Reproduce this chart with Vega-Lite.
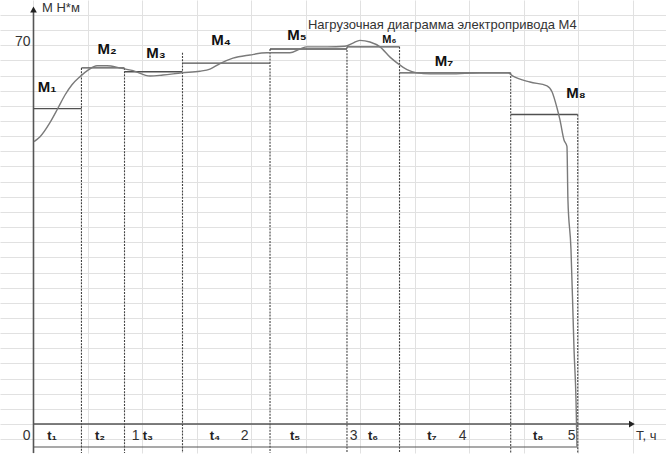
{
  "$schema": "https://vega.github.io/schema/vega-lite/v6.json",
  "width": 666,
  "height": 454,
  "autosize": {"type": "fit", "contains": "padding"},
  "padding": 0,
  "background": "white",
  "config": {"view": {"stroke": null}, "font": "Liberation Sans"},
  "datasets": {
    "curve": [
      {"x": 0.005, "y": 52.2}, {"x": 0.06, "y": 53.1}, {"x": 0.151, "y": 55.7}, {"x": 0.225, "y": 58.4},
      {"x": 0.289, "y": 60.8}, {"x": 0.353, "y": 62.7}, {"x": 0.427, "y": 64.2}, {"x": 0.5, "y": 65.4},
      {"x": 0.583, "y": 66.2}, {"x": 0.674, "y": 66.2}, {"x": 0.794, "y": 65.8}, {"x": 0.913, "y": 65.3},
      {"x": 1.069, "y": 64.3}, {"x": 1.188, "y": 64.5}, {"x": 1.362, "y": 64.9}, {"x": 1.527, "y": 65.2},
      {"x": 1.619, "y": 65.6}, {"x": 1.711, "y": 66.6}, {"x": 1.83, "y": 67.6}, {"x": 1.986, "y": 68.2},
      {"x": 2.142, "y": 68.6}, {"x": 2.353, "y": 68.6}, {"x": 2.445, "y": 69.3}, {"x": 2.509, "y": 69.7},
      {"x": 2.693, "y": 69.7}, {"x": 2.858, "y": 69.8}, {"x": 2.931, "y": 70.4}, {"x": 2.995, "y": 70.9},
      {"x": 3.087, "y": 70.6}, {"x": 3.179, "y": 69.7}, {"x": 3.271, "y": 67.8}, {"x": 3.344, "y": 66.6},
      {"x": 3.427, "y": 65.5}, {"x": 3.518, "y": 64.9}, {"x": 3.638, "y": 64.7}, {"x": 3.821, "y": 64.7},
      {"x": 4.096, "y": 64.9}, {"x": 4.353, "y": 64.9}, {"x": 4.399, "y": 64.3}, {"x": 4.555, "y": 63.2},
      {"x": 4.711, "y": 62.5}, {"x": 4.757, "y": 61.4}, {"x": 4.803, "y": 58.4}, {"x": 4.83, "y": 56.2},
      {"x": 4.867, "y": 52.5}, {"x": 4.894, "y": 51.3}, {"x": 4.903, "y": 41.5}, {"x": 4.931, "y": 32.3},
      {"x": 4.95, "y": 19.9}, {"x": 4.959, "y": 13.8}, {"x": 4.977, "y": 4.6}, {"x": 4.986, "y": -4.2}
    ],
    "steps": [
      {"seg": "M1", "x": 0, "x2": 0.44, "y": 58.3},
      {"seg": "M2", "x": 0.44, "x2": 0.835, "y": 65.8},
      {"seg": "M3", "x": 0.835, "x2": 1.367, "y": 65.1},
      {"seg": "M4", "x": 1.367, "x2": 2.17, "y": 66.7},
      {"seg": "M5", "x": 2.17, "x2": 2.876, "y": 69.3},
      {"seg": "M6", "x": 2.876, "x2": 3.358, "y": 69.7},
      {"seg": "M7", "x": 3.358, "x2": 4.378, "y": 64.9},
      {"seg": "M8", "x": 4.378, "x2": 4.993, "y": 57.2}
    ],
    "bounds": [
      {"x": 0.44, "y": 65.8}, {"x": 0.835, "y": 65.8}, {"x": 1.367, "y": 68.6}, {"x": 2.17, "y": 69.3},
      {"x": 2.876, "y": 69.7}, {"x": 3.358, "y": 69.7}, {"x": 4.378, "y": 64.9}, {"x": 4.993, "y": 57.2}
    ],
    "axisV": [{"x": 0, "y": -5.35, "y2": 76.7}],
    "axisH": [{"x": 0, "x2": 5.5, "y": 0}],
    "dim": [{"x": 0, "x2": 4.993, "y": -4.24}],
    "arrows": [
      {"x": 0, "y": 76.6, "shape": "triangle-up"},
      {"x": 5.49, "y": 0, "shape": "triangle-right"}
    ],
    "mlabels": [
      {"x": 0.124, "y": 62.3, "text": "M₁"}, {"x": 0.674, "y": 69.3, "text": "M₂"},
      {"x": 1.124, "y": 68.6, "text": "M₃"}, {"x": 1.72, "y": 71.0, "text": "M₄"},
      {"x": 2.417, "y": 71.9, "text": "M₅"}, {"x": 3.265, "y": 70.9, "text": "M₆"},
      {"x": 3.766, "y": 67.1, "text": "M₇"}, {"x": 4.977, "y": 61.2, "text": "M₈"}
    ],
    "tlabels": [
      {"x": 0.17, "y": -2.2, "text": "t₁"}, {"x": 0.61, "y": -2.2, "text": "t₂"},
      {"x": 1.05, "y": -2.2, "text": "t₃"}, {"x": 1.665, "y": -2.2, "text": "t₄"},
      {"x": 2.4, "y": -2.2, "text": "t₅"}, {"x": 3.115, "y": -2.2, "text": "t₆"},
      {"x": 3.656, "y": -2.2, "text": "t₇"}, {"x": 4.63, "y": -2.2, "text": "t₈"}
    ],
    "nums": [
      {"x": 0, "y": -2.2, "text": "0"}, {"x": 1, "y": -2.2, "text": "1"}, {"x": 2, "y": -2.2, "text": "2"},
      {"x": 3, "y": -2.2, "text": "3"}, {"x": 4, "y": -2.2, "text": "4"}, {"x": 5, "y": -2.2, "text": "5"},
      {"x": 0, "y": 70.6, "text": "70"}
    ],
    "texts": [
      {"x": 2.518, "y": 73.7, "text": "Нагрузочная диаграмма электропривода М4", "kind": "title"},
      {"x": 0.078, "y": 76.9, "text": "М Н*м", "kind": "ylab"},
      {"x": 5.528, "y": -2.2, "text": "T, ч", "kind": "xlab"}
    ]
  },
  "encoding": {
    "x": {
      "field": "x", "type": "quantitative",
      "scale": {"domain": [-0.3073, 5.8028], "nice": false, "zero": false},
      "axis": {"values": [0, 0.5, 1, 1.5, 2, 2.5, 3, 3.5, 4, 4.5, 5, 5.5], "labels": false, "ticks": false, "domain": false, "grid": true, "gridColor": "#e1e1e1", "gridWidth": 1, "title": null}
    },
    "y": {
      "field": "y", "type": "quantitative",
      "scale": {"domain": [-5.347, 78.355], "nice": false, "zero": false},
      "axis": {"values": [-2.8, 0, 2.8, 5.6, 8.4, 11.2, 14, 16.8, 19.6, 22.4, 25.2, 28, 30.8, 33.6, 36.4, 39.2, 42, 44.8, 47.6, 50.4, 53.2, 56, 58.8, 61.6, 64.4, 67.2, 70, 72.8, 75.6], "labels": false, "ticks": false, "domain": false, "grid": true, "gridColor": "#e1e1e1", "gridWidth": 1, "title": null}
    }
  },
  "layer": [
    {"data": {"name": "bounds"}, "mark": {"type": "rule", "color": "#444444", "strokeWidth": 1.1, "strokeDash": [2, 1.2]}, "encoding": {"y2": {"datum": -5.347}}},
    {"data": {"name": "dim"}, "mark": {"type": "rule", "color": "#555555", "strokeWidth": 1.2}, "encoding": {"x2": {"field": "x2"}}},
    {"data": {"name": "axisV"}, "mark": {"type": "rule", "color": "#555555", "strokeWidth": 1.6}, "encoding": {"y2": {"field": "y2"}}},
    {"data": {"name": "axisH"}, "mark": {"type": "rule", "color": "#555555", "strokeWidth": 1.6}, "encoding": {"x2": {"field": "x2"}}},
    {"data": {"name": "arrows"}, "mark": {"type": "point", "filled": true, "color": "#222222", "size": 45, "opacity": 1}, "encoding": {"shape": {"field": "shape", "type": "nominal", "scale": null}}},
    {"data": {"name": "steps"}, "mark": {"type": "rule", "color": "#505050", "strokeWidth": 1.3}, "encoding": {"x2": {"field": "x2"}}},
    {"data": {"name": "curve"}, "mark": {"type": "line", "color": "#7a7a7a", "strokeWidth": 1.4, "interpolate": "monotone"}, "encoding": {}},
    {"data": {"name": "mlabels"}, "mark": {"type": "text", "fontWeight": "bold", "color": "#111111", "align": "center", "baseline": "middle"}, "encoding": {"text": {"field": "text"}, "size": {"condition": {"test": "datum.text === 'M₆'", "value": 11}, "value": 15}}},
    {"data": {"name": "tlabels"}, "mark": {"type": "text", "fontSize": 13, "fontWeight": "bold", "color": "#222222", "align": "center", "baseline": "middle"}, "encoding": {"text": {"field": "text"}}},
    {"data": {"name": "nums"}, "mark": {"type": "text", "fontSize": 14, "color": "#333333", "align": "right", "baseline": "middle", "dx": -3}, "encoding": {"text": {"field": "text"}}},
    {"data": {"name": "texts"}, "mark": {"type": "text", "fontSize": 13, "color": "#333333", "align": "left", "baseline": "middle"}, "encoding": {"text": {"field": "text"}}}
  ]
}
